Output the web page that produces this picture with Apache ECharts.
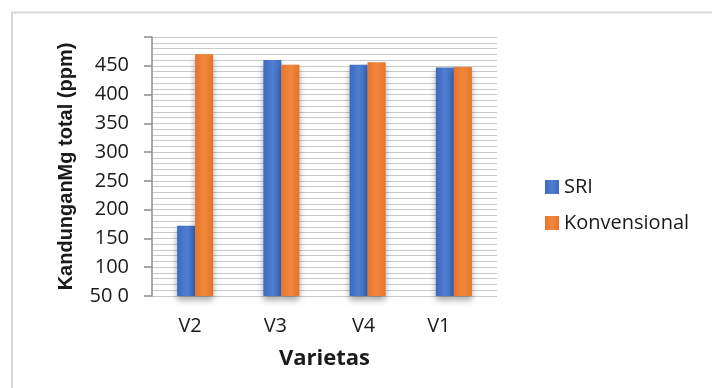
<!DOCTYPE html>
<html>
<head>
<meta charset="utf-8">
<style>
  html, body { margin: 0; padding: 0; background: #fff; }
  #chart { width: 712px; height: 388px; }
</style>
<script src="https://cdn.jsdelivr.net/npm/echarts@6/dist/echarts.min.js"></script>
</head>
<body>
<div id="chart"></div>
<script>
// Mg content (ppm) per rice variety, SRI vs conventional cultivation
const categories = ['V2', 'V3', 'V4', 'V1'];
const sriValues = [172, 460, 452, 447];
const konvensionalValues = [470, 452, 456, 448];
const seriesNames = ['SRI', 'Konvensional'];

// horizontal nudges for the category labels (px, negative = left)
const labelNudge = [-5, -6, -4, -15];

const chart = echarts.init(document.getElementById('chart'), null, { renderer: 'canvas' });

function barFill(edge, mid) {
  return new echarts.graphic.LinearGradient(0, 0, 1, 0, [
    { offset: 0, color: edge },
    { offset: 0.5, color: mid },
    { offset: 1, color: edge }
  ]);
}

const rich = {};
labelNudge.forEach((d, i) => {
  rich['c' + i] = {
    fontFamily: 'Open Sans', fontSize: 20, color: '#1a1a1a',
    padding: d < 0 ? [0, -2 * d, 0, 0] : [0, 0, 0, 2 * d]
  };
});

chart.setOption({
  animation: false,
  backgroundColor: '#fff',
  graphic: [
    { type: 'line', shape: { x1: 12, y1: 12.5, x2: 712, y2: 12.5 }, style: { stroke: '#d6d6d6', lineWidth: 2 } },
    { type: 'line', shape: { x1: 12, y1: 12, x2: 12, y2: 388 }, style: { stroke: '#d6d6d6', lineWidth: 2 } }
  ],
  grid: { left: 152, right: 215, top: 37, bottom: 92 },
  legend: {
    orient: 'vertical',
    left: 540,
    top: 172,
    itemWidth: 14,
    itemHeight: 14,
    itemGap: 16,
    icon: 'rect',
    textStyle: { fontFamily: 'Open Sans', fontSize: 20, color: '#1a1a1a' },
    data: seriesNames
  },
  xAxis: {
    type: 'category',
    data: categories,
    name: 'Varietas',
    nameLocation: 'middle',
    nameGap: 52,
    nameTextStyle: { fontFamily: 'Open Sans', fontSize: 22, fontWeight: 'bold', color: '#1a1a1a' },
    axisLine: { show: false },
    axisTick: { show: false },
    axisLabel: {
      margin: 20,
      formatter: (v, i) => '{c' + i + '|' + v + '}',
      rich: rich
    }
  },
  yAxis: {
    type: 'value',
    min: 50,
    max: 500,
    interval: 50,
    name: 'KandunganMg total (ppm)',
    nameLocation: 'middle',
    nameGap: 76,
    nameRotate: 90,
    nameTextStyle: { fontFamily: 'Liberation Sans', fontSize: 20, fontWeight: 'bold', color: '#1a1a1a' },
    axisLine: { show: true, lineStyle: { color: '#8c8c8c', width: 1.5 } },
    axisTick: { show: true, inside: false, length: 8, lineStyle: { color: '#8c8c8c', width: 1.5 } },
    axisLabel: {
      margin: 23,
      fontFamily: 'Open Sans',
      fontSize: 20,
      color: '#1a1a1a',
      formatter: v => (v === 500 ? '' : v === 50 ? '50 0' : String(v))
    },
    splitLine: { show: true, lineStyle: { color: '#c9c9c9', width: 1 } },
    minorTick: { show: false, splitNumber: 5 },
    minorSplitLine: { show: true, lineStyle: { color: '#c9c9c9', width: 1 } }
  },
  series: [
    {
      name: seriesNames[0],
      type: 'bar',
      data: sriValues,
      barWidth: 18,
      barGap: '0%',
      itemStyle: {
        color: barFill('#3c69bd', '#4f7fd2'),
        shadowColor: 'rgba(0,0,0,0.35)',
        shadowBlur: 6,
        shadowOffsetY: 4
      }
    },
    {
      name: seriesNames[1],
      type: 'bar',
      data: konvensionalValues,
      barWidth: 18,
      barGap: '0%',
      itemStyle: {
        color: barFill('#e5742a', '#f2883c'),
        shadowColor: 'rgba(0,0,0,0.35)',
        shadowBlur: 6,
        shadowOffsetY: 4
      }
    }
  ]
});
</script>
</body>
</html>
